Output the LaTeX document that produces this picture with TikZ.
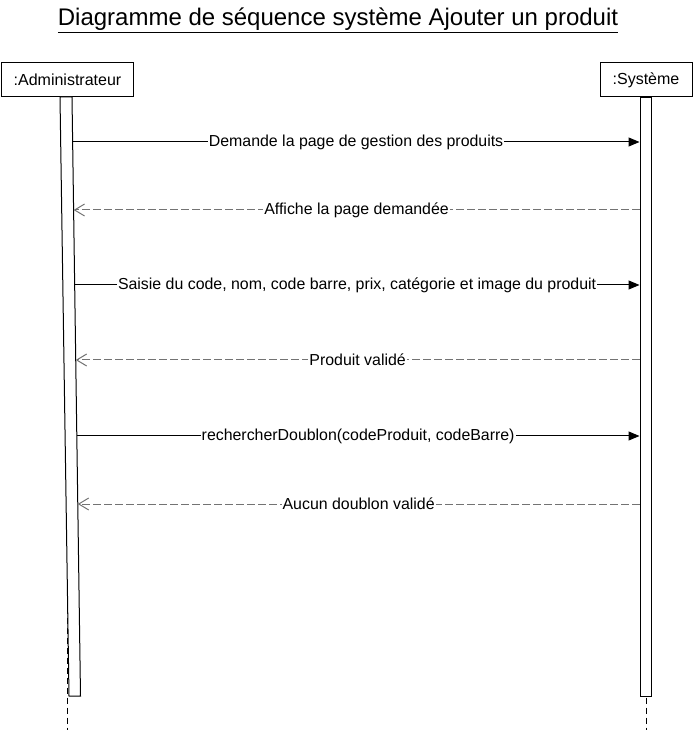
\documentclass[tikz,border=0pt]{standalone}
\usepackage{fontspec}
\setmainfont{Liberation Sans}
\usetikzlibrary{arrows.meta,calc}
\begin{document}
\begin{tikzpicture}[y=-1pt,x=1pt,line width=1pt]
            \tikzset{
                actor/.style={draw=black,fill=white,minimum height=34pt,inner sep=0pt,font=\fontsize{16}{18}\selectfont},
                lifeline/.style={draw=black,dash pattern=on 6pt off 4pt},
                call/.style={draw=black,-{Triangle[length=11pt,width=9pt]}},
                reply/.style={draw=black!55,dash pattern=on 8pt off 3pt,-{Straight Barb[length=10pt,width=12pt]}},
                msg/.style={fill=white,inner sep=1pt,text=black,font=\fontsize{15.9}{18}\selectfont}
            }
            \useasboundingbox (0,0) rectangle (693,730);
            \node (title) at (338,20.5) {\fontsize{24}{28}\selectfont\underline{Diagramme de séquence système Ajouter un produit}};

            \node[actor,minimum width=132pt] (admin) at (67.5,80) {:Administrateur};
            \node[actor,minimum width=92pt] (sys) at (646,80) {:Système};

            \coordinate (adminend) at (67.5,730);
            \coordinate (sysend) at (646,730);
            \draw[lifeline] (admin.south) -- (adminend);
            \draw[lifeline] (sys.south) -- (sysend);

            % activation bars
            \coordinate (a1) at (60,97);
            \coordinate (a2) at (72,97);
            \coordinate (a3) at (80.5,696);
            \coordinate (a4) at (69,696);
            \draw[fill=white] (a1) -- (a2) -- (a3) -- (a4) -- cycle;
            \node[draw,fill=white,minimum width=11pt,minimum height=599pt,inner sep=0pt,anchor=north] (sysbar) at (645.5,97) {};

            \foreach \y [count=\i] in {142,210,285,360,436,504}{
                    \coordinate (m\i) at ($(a2)!{(\y-97)/599}!(a3)$);
                    \coordinate (s\i) at (sysbar.west |- m\i);
                }

            \draw[call] (m1) -- node[msg] {Demande la page de gestion des produits} (s1);
            \draw[reply] (s2) -- node[msg] {Affiche la page demandée} (m2);
            \draw[call] (m3) -- node[msg] {Saisie du code, nom, code barre, prix, catégorie et image du produit} (s3);
            \draw[reply] (s4) -- node[msg] {Produit validé} (m4);
            \draw[call] (m5) -- node[msg] {rechercherDoublon(codeProduit, codeBarre)} (s5);
            \draw[reply] (s6) -- node[msg] {Aucun doublon validé} (m6);
        \end{tikzpicture}
\end{document}
